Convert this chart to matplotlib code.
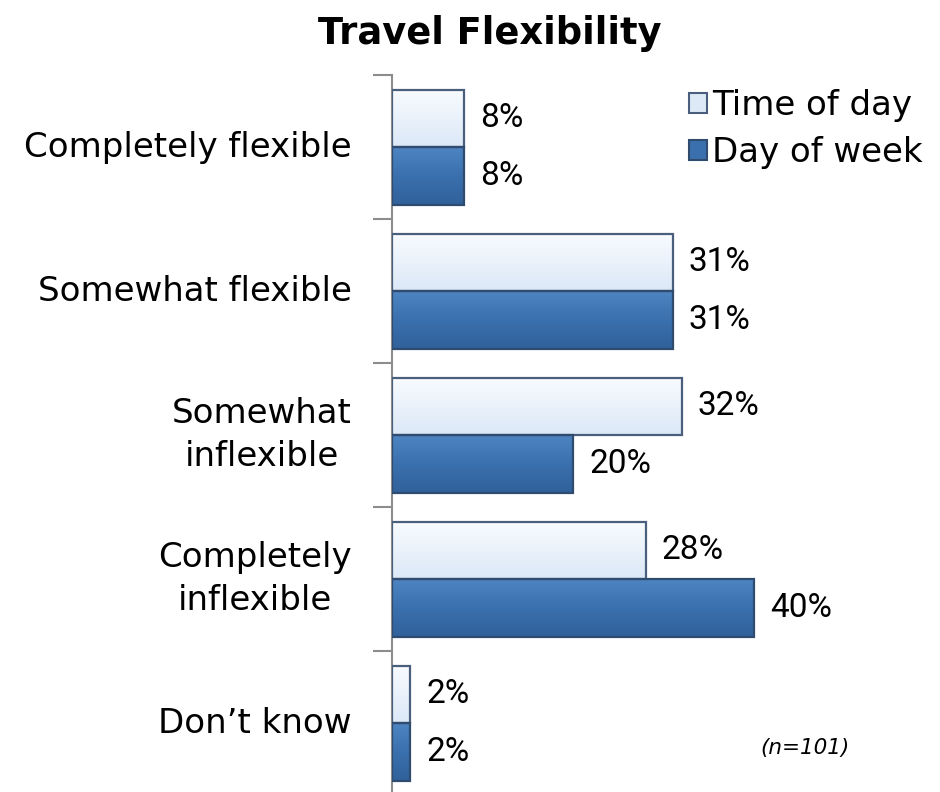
import matplotlib.pyplot as plt
from matplotlib.colors import LinearSegmentedColormap
from matplotlib.patches import Patch
from matplotlib.transforms import offset_copy
import numpy as np

categories = ["Completely flexible", "Somewhat flexible", "Somewhat\ninflexible",
              "Completely\ninflexible", "Don\u2019t know"]
time_of_day = [8, 31, 32, 28, 2]
day_of_week = [8, 31, 20, 40, 2]

plt.rcParams['font.family'] = ['DejaVu Sans']
num_font = ["Roboto", "DejaVu Sans"]

fig = plt.figure(figsize=(9.4, 7.92), dpi=100)
ax = fig.add_axes([0.417, -0.004, 0.578, 0.909])

y = np.arange(len(categories))
h = 0.4


def shade(bars, cols):
    # vertical gradient inside each bar
    grad = np.linspace(0, 1, 64).reshape(-1, 1)
    cmap = LinearSegmentedColormap.from_list("g", cols)
    for b in bars:
        x0, y0 = b.get_x(), b.get_y()
        w, hh = b.get_width(), b.get_height()
        im = ax.imshow(grad, aspect="auto", cmap=cmap, extent=[x0, x0 + w, y0 + hh, y0],
                       zorder=b.get_zorder() - 0.1, interpolation="bicubic")
        im.set_clip_path(b)


b1 = ax.barh(y - h / 2, time_of_day, height=h, color="none", edgecolor="#4a5f7e", linewidth=1.6,
             zorder=3)
b2 = ax.barh(y + h / 2, day_of_week, height=h, color="none", edgecolor="#2f4b6e", linewidth=1.6,
             zorder=3)
shade(b1, ["#f8fbfe", "#eaf2fb", "#dbe8f6"])
shade(b2, ["#4d84c2", "#3a70ae", "#30619b"])
ax.set_xlim(0, 60)
ax.set_ylim(len(categories) - 0.5, -0.5)

handles = [Patch(facecolor="#dde9f6", edgecolor="#4a5f7e", linewidth=1.5),
           Patch(facecolor="#3a70ae", edgecolor="#2f4b6e", linewidth=1.5)]
ax.legend(handles, ["Time of day", "Day of week"], loc="upper left", bbox_to_anchor=(0.521, 1.0),
          frameon=False, fontsize=24.5, handlelength=0.55, handleheight=0.55, handletextpad=0.15,
          labelspacing=0.42, borderaxespad=0)

for yy, v in zip(y - h / 2, time_of_day):
    ax.text(v, yy, f"{v}%", va="center", ha="left", fontsize=24, family=num_font,
            transform=offset_copy(ax.transData, fig=fig, x=16, y=0, units="dots"))
for yy, v in zip(y + h / 2, day_of_week):
    ax.text(v, yy, f"{v}%", va="center", ha="left", fontsize=24, family=num_font,
            transform=offset_copy(ax.transData, fig=fig, x=16, y=0, units="dots"))

# category names to the left of the axis line
lab_tr = offset_copy(ax.get_yaxis_transform(), fig=fig, x=-40, y=0, units="dots")
for yy, name in zip(y, categories):
    ax.text(0, yy, name, ha="right", va="center", fontsize=24.5, multialignment="center",
            linespacing=1.4, transform=lab_tr)

ax.set_yticks(y)
ax.set_yticklabels([])
ax.tick_params(axis="y", which="major", length=0)
ax.set_yticks(np.arange(len(categories) + 1) - 0.5, minor=True)
ax.tick_params(axis="y", which="minor", length=14, width=1.5, color="#8c8c8c", direction="out")
ax.set_xticks([])
for s in ["top", "right", "bottom"]:
    ax.spines[s].set_visible(False)
ax.spines["left"].set_color("#8c8c8c")
ax.spines["left"].set_linewidth(1.5)

fig.text(0.521, 0.958, "Travel Flexibility", ha="center", va="center", fontsize=26.5, fontweight="bold")
fig.text(0.856, 0.055, "(n=101)", ha="center", va="center", fontsize=15.5, style="italic")

fig.savefig("out.png", dpi=100)
